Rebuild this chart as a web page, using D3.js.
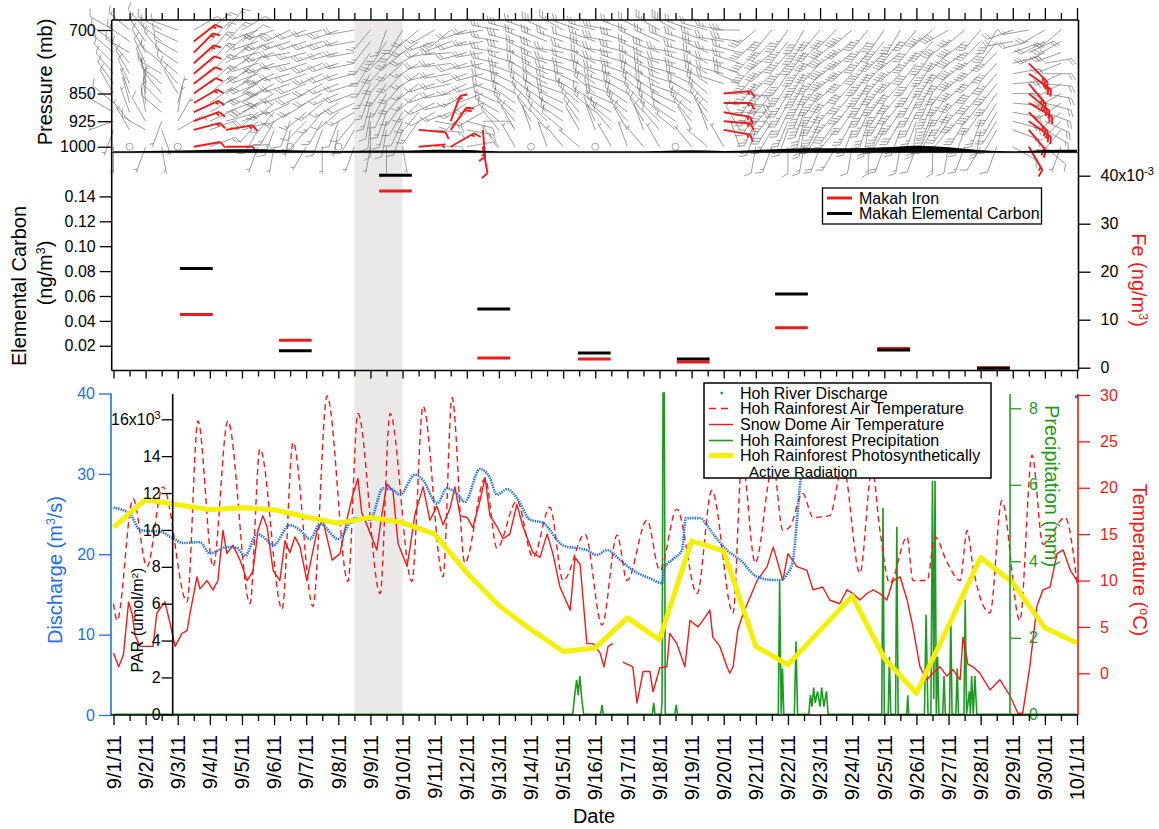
<!DOCTYPE html>
<html>
<head>
<meta charset="utf-8">
<title>Olympic Peninsula, September 2011</title>
<script src="https://cdn.jsdelivr.net/npm/d3@7"></script>
<style>
  html, body { margin: 0; padding: 0; background: #ffffff; }
  svg { display: block; font-family: "Liberation Sans", Arial, Helvetica, sans-serif; }
</style>
</head>
<body>
<svg id="chart" width="1159" height="829"></svg>
<script>
// ---------------------------------------------------------------
// Data. Times are decimal days after 9/1/2011 00:00.
// ---------------------------------------------------------------
const dateLabels = d3.range(0, 31).map(d => d < 30 ? `9/${d + 1}/11` : "10/1/11");

// wind profiler (12-hourly, one array per pressure level): direction (deg), speed (kt)
const windLevels = [1000, 950, 925, 900, 875, 850, 825, 800, 775, 750, 725, 700];
const windDir = {
  1000: [180,0,200,170,0, 80,70,90,85, 200,190,0,210,180,0,200, 190,180,170,85, 90,60,80,170, 320,330,0,340,320,310,0,330,340,320,330,0,320,310,330,340, 190,200,180,190,200,210,190,180,200,190,200,180,190,200,210,200, 120,150,130,200],
  950: [200,330,300,160,60, 75,70,80,75, 210,200,190,220,200,190,210, 180,190,200,95, 95,35,100,175, 320,330,340,320,310,330,340,320,330,340,320,310,330,340,100,330, 200,210,200,190,210,220,200,190,210,200,190,210,220,200,190,210, 110,140,120,220],
  925: [250,320,330,200,30, 70,65,75,70, 220,210,200,225,210,200,220, 185,195,205,215, 100,20,105,90, 310,320,330,315,305,325,335,310,320,330,315,305,320,330,95,90, 205,212,202,195,205,215,208,198,205,210,200,205,215,210,200,212, 105,125,115,225],
  900: [300,340,350,310,10, 65,60,70,65, 230,220,240,230,220,230,240, 190,200,210,220, 240,250,230,240, 300,310,320,310,300,320,310,300,310,320,310,300,310,320,100,90, 210,215,205,200,210,220,215,205,210,215,205,200,210,220,215,210, 100,135,110,230],
  875: [310,345,355,315,15, 60,55,65,60, 238,230,245,238,230,238,245, 195,205,215,225, 245,255,235,245, 295,305,315,305,295,310,305,295,305,315,305,295,305,315,90,95, 212,218,208,202,212,222,218,208,212,218,208,202,212,222,218,212, 95,120,105,235],
  850: [330,340,0,320,330, 55,50,60,55, 245,240,250,245,240,245,250, 200,210,220,230, 250,260,240,250, 290,300,310,300,290,300,310,290,300,310,300,290,300,310,85,95, 215,220,210,205,215,225,220,210,215,220,210,205,215,225,220,215, 90,130,100,240],
  825: [325,335,350,310,320, 52,48,58,52, 248,242,252,248,242,248,252, 205,215,222,232, 252,258,245,252, 288,295,305,298,288,295,305,288,295,305,298,288,295,305,288,295, 218,222,212,208,218,228,222,212,218,222,212,208,218,228,222,218, 85,140,95,242],
  800: [320,330,340,300,310, 50,45,55,50, 250,245,255,250,245,250,255, 210,220,225,235, 255,260,250,255, 285,290,300,295,285,290,300,285,290,300,295,285,290,300,285,290, 220,225,215,210,220,230,225,215,220,225,215,210,220,230,225,220, 80,125,90,245],
  775: [315,320,335,310,305, 48,42,52,48, 252,248,258,252,248,252,258, 212,222,228,238, 258,262,252,258, 282,288,298,292,282,288,298,282,288,298,292,282,288,298,282,288, 222,228,218,212,222,232,228,218,222,228,218,212,222,232,228,222, 75,135,80,248],
  750: [310,300,330,320,300, 45,40,50,45, 255,250,260,255,250,255,260, 215,225,230,240, 260,265,255,260, 280,285,295,290,280,285,295,280,285,295,290,280,285,295,280,285, 225,230,220,215,225,235,230,220,225,230,220,215,225,235,230,225, 70,65,245,250],
  725: [305,305,325,310,295, 52,45,45,52, 252,250,252,252,252,252,260, 218,212,220,235, 250,248,252,260, 280,285,292,292,290,288,290,280,288,295,295,290,288,290,280,278, 228,225,218,212,222,230,230,220,220,220,220,222,232,232,225,218, 260,255,242,240],
  700: [300,310,320,300,290, 60,50,40,60, 250,250,245,250,255,250,260, 220,200,210,230, 240,230,250,260, 280,285,290,295,300,290,285,280,290,295,300,300,290,285,280,270, 230,220,215,210,220,225,230,220,215,210,220,230,240,230,220,210, 250,260,240,230]
};
const windSpd = {
  1000: [5,0,5,5,0, 10,15,10,15, 5,5,0,5,5,0,5, 5,10,5,5, 10,15,10,10, 5,5,0,5,5,5,0,5,5,5,5,0,5,5,5,5, 10,15,10,15,20,15,10,15,20,15,10,15,10,15,10,10, 10,15,10,5],
  950: [5,5,10,5,10, 15,20,15,20, 10,10,5,10,10,5,10, 10,10,15,10, 15,20,15,15, 10,10,5,10,10,10,5,10,15,10,10,5,10,10,15,10, 20,25,20,25,30,25,20,25,30,25,20,25,20,25,20,15, 15,20,15,10],
  925: [5,5,10,5,5, 15,20,15,15, 10,15,10,10,15,10,10, 10,15,10,15, 15,15,10,15, 10,15,10,10,15,10,10,15,15,10,15,10,10,15,15,15, 25,30,25,30,35,30,25,30,35,30,25,30,25,30,25,20, 15,20,20,10],
  900: [10,5,10,10,5, 15,15,20,15, 15,15,10,15,15,10,15, 10,15,10,15, 10,15,10,15, 15,15,10,15,15,10,15,15,20,15,15,10,15,15,15,20, 30,35,30,35,40,35,30,35,40,35,30,35,30,35,30,25, 20,25,20,15],
  875: [10,5,10,10,5, 15,15,15,10, 20,15,15,20,15,15,20, 15,10,15,15, 15,15,15,20, 15,20,15,15,20,15,15,20,20,15,20,15,15,20,15,20, 30,35,35,40,40,35,35,40,40,35,35,40,30,35,35,30, 20,20,20,15],
  850: [10,5,5,10,10, 10,15,15,10, 20,20,15,20,20,15,20, 15,15,20,15, 15,20,15,20, 20,20,15,20,20,15,20,20,25,20,20,15,20,20,15,15, 35,40,35,40,45,40,35,40,45,40,35,40,35,40,35,30, 20,25,20,20],
  825: [10,10,5,10,10, 10,15,15,10, 20,20,20,20,20,15,20, 15,20,20,15, 15,20,15,20, 20,25,20,20,25,20,20,25,25,20,25,20,20,25,20,20, 35,40,40,45,45,40,40,45,45,40,40,45,35,40,40,35, 20,25,20,20],
  800: [10,10,10,15,10, 10,15,15,10, 20,25,20,20,25,20,20, 15,20,20,15, 20,20,15,20, 25,25,20,25,25,20,25,25,30,25,25,20,25,25,20,25, 40,45,40,45,45,45,40,45,45,45,40,45,40,45,40,35, 20,25,20,20],
  775: [10,10,10,15,10, 15,15,15,10, 20,25,20,25,25,20,25, 20,20,20,15, 20,25,20,20, 25,25,25,25,25,20,25,25,30,25,25,20,25,25,20,25, 40,45,45,45,45,45,45,45,45,45,40,45,40,45,40,35, 20,25,20,25],
  750: [15,10,10,15,10, 15,15,20,15, 25,25,20,25,25,20,25, 20,20,25,20, 20,25,20,25, 25,30,25,30,25,25,30,25,30,25,30,25,25,30,25,25, 40,45,45,45,40,45,45,45,45,40,45,45,45,40,35,35, 20,20,25,25],
  725: [10,15,10,15,10, 15,15,15,10, 20,25,25,20,25,25,20, 15,20,20,20, 15,20,20,25, 25,30,25,30,25,20,25,30,30,25,25,30,25,25,25,30, 35,40,45,45,40,40,45,45,45,40,40,45,40,40,35,30, 20,20,20,25],
  700: [10,15,10,15,10, 10,15,15,10, 20,25,25,20,20,25,20, 15,15,20,20, 15,20,20,25, 25,30,25,30,25,20,25,30,25,20,25,30,25,20,25,30, 35,40,45,40,35,40,45,45,40,35,40,45,40,35,30,30, 20,15,20,25]
};
// profiles flagged as offshore flow (drawn in red): time window and pressure band
const offshoreFrom  = [2.45, 3.45, 9.45, 10.45, 11.45, 18.95, 28.45];
const offshoreTo    = [2.55, 3.55, 9.55, 10.55, 11.55, 19.05, 28.55];
const offshoreTopP  = [720, 940, 940, 920, 940, 845, 770];
const offshoreBaseP = [1010, 1010, 1010, 1010, 1010, 955, 1010];

// surface pressure under the profiler (mb), daily
const surfaceDay = d3.range(0, 31);
const surfaceP = [1014,1013,1012,1009,1008,1009,1012,1013,1012,1012,1009,1010,1014,1014,1014,1014,1014,1013,1011,1013,1010,1006,1005,1005,1002,997,1002,1011,1014,1010,1009];

// Makah filter samples
const sampleStart = [2.07, 5.15, 8.27, 11.33, 14.46, 17.54, 20.6, 23.78, 26.89];
const sampleLength = 1.02;
const makahEC = [0.082, 0.016, 0.157, 0.0495, 0.0142, 0.0094, 0.0616, 0.0166, 0.002];
const makahFe = [0.0111, 0.0057, 0.0368, 0.0020, 0.0018, 0.0012, 0.0083, 0.0040, 0.0];

// Hoh River discharge (m3/s)
const dischargeDay = [0,0.51,0.83,1.45,1.85,2.16,2.69,3.0,3.53,3.84,4.09,4.47,4.65,4.97,5.49,5.81,6.12,6.43,6.99,7.52,7.99,8.39,8.7,8.92,9.39,9.64,10.07,10.38,10.73,10.94,11.41,11.72,11.94,12.25,12.56,12.97,13.37,14.0,14.74,15.05,15.36,15.77,16.17,16.7,17.08,17.17,17.42,17.7,17.82,18.26,18.48,18.66,19.1,19.51,20.04,20.54,20.75,20.97,21.15,21.28,21.37,21.45];
const dischargeVal = [25.8,25.0,23.0,22.8,22.0,21.4,21.5,20.1,20.9,20.8,19.8,22.5,22.2,21.1,23.6,23.0,21.9,23.8,21.9,24.5,24.3,28.2,28.0,27.4,29.9,29.2,26.3,28.2,27.4,26.5,30.6,29.5,27.4,28.1,27.0,24.3,23.9,21.1,20.5,19.9,20.5,19.3,18.0,17.0,16.4,18.4,19.4,20.5,24.5,24.5,23.6,22.6,20.5,19.3,17.2,16.8,16.8,17.5,19.1,24.3,28.4,31.0];
const dischargeLastDay = 30.0, dischargeLastVal = 39.6;

// Hoh Rainforest air temperature (deg C)
const hohTempDay = [0,0.11,0.61,1.04,1.54,2.29,2.63,3.1,3.56,4.25,4.56,5.25,5.59,6.21,6.65,7.3,7.61,8.3,8.61,9.29,9.64,10.26,10.54,10.94,11.57,11.94,12.56,13.06,13.59,14.0,14.68,15.21,15.68,15.99,16.61,17.01,17.54,18.17,18.63,19.29,19.57,19.98,20.54,20.84,21.06,21.46,21.78,22.3,22.71,23.24,23.62,23.86,24.17,24.71,24.89,25.33,25.58,25.95,26.36,26.58,26.76,27.29,27.66,28.22,28.6,28.94,29.63,30.0];
const hohTempVal = [7.5,5.7,18.8,11.5,20.1,7.7,27.2,11.5,27.2,7.5,24.2,6.9,24.9,7.2,29.9,9.9,28.0,8.6,28.0,9.9,28.8,10.4,29.7,11.9,21.0,13.5,18.6,12.5,17.9,10.0,15.0,5.2,14.9,10.0,16.5,11.1,17.7,8.6,19.7,6.5,23.0,11.9,22.5,15.4,15.8,19.4,16.8,17.0,22.5,10.8,22.0,15.5,9.7,14.7,10.0,10.0,14.7,12.0,10.0,15.4,11.5,6.5,18.6,5.7,23.5,13.9,16.8,9.7];

// Snow Dome air temperature (deg C); null marks a data gap
const snowTempDay = [0,0.16,0.31,0.47,0.58,0.67,0.83,1.23,1.35,1.6,1.76,1.92,2.13,2.29,2.38,2.6,2.69,2.91,3.1,3.25,3.41,3.53,3.72,3.94,4.16,4.34,4.5,4.65,4.78,4.97,5.18,5.34,5.49,5.65,5.81,6.02,6.34,6.52,6.81,7.05,7.27,7.43,7.61,7.73,7.89,8.2,8.36,8.51,8.7,8.86,9.14,9.23,9.39,9.64,9.85,10.07,10.26,10.48,10.63,10.79,11.01,11.19,11.41,11.57,11.72,11.94,12.13,12.34,12.56,12.75,13.06,13.28,13.5,13.68,13.9,14.22,14.37,14.53,14.74,14.93,15.15,15.27,15.4,15.55,15.7,15.86,16.17,16.3,16.49,16.7,16.8,17.01,17.23,17.32,17.54,17.79,17.95,18.2,18.35,18.57,18.66,18.88,19.1,19.19,19.29,19.44,19.6,19.82,20.04,20.35,20.54,20.66,20.84,21.0,21.28,21.59,21.78,22.08,22.3,22.61,22.84,23.02,23.24,23.46,23.65,23.86,24.08,24.27,24.49,24.71,24.89,25.11,25.33,25.51,25.73,25.95,26.14,26.36,26.45,26.6,26.76,26.98,27.29,27.6,27.91,28.16,28.31,28.53,28.75,28.94,29.16,29.38,29.57,29.79,30.0];
const snowTempVal = [2.2,0.7,2.0,7.7,6.4,4.1,2.9,2.9,6.5,7.7,5.4,2.9,4.3,4.6,6.4,10.4,9.1,10.0,9.0,10.0,15.4,12.9,13.8,12.2,10.0,11.0,15.4,17.0,15.8,11.1,10.0,14.3,13.0,14.7,13.6,10.0,15.4,16.5,12.2,12.9,16.6,19.0,21.0,17.3,16.0,13.3,17.2,20.4,19.7,14.0,11.5,13.5,17.2,20.1,16.5,18.0,16.0,17.8,20.1,17.0,16.8,15.7,18.6,21.1,17.0,15.8,14.5,15.0,18.2,15.8,13.0,12.5,15.0,12.9,9.3,6.8,12.5,11.7,3.2,3.2,2.2,0.7,2.9,3.2,null,1.2,0.7,-3.2,0.2,0.2,-2.0,0.6,0.7,4.3,3.2,0.7,5.7,5.0,5.7,6.8,3.9,2.9,0.7,0.0,0.7,4.7,6.4,8.2,10.0,11.5,13.6,12.2,10.0,12.9,11.5,11.1,9.0,9.3,7.9,7.5,9.0,8.6,7.9,8.6,9.0,8.6,7.9,10.0,10.4,7.9,5.0,0.7,-0.7,0.0,0.7,-0.3,0.4,-0.7,3.9,1.0,0.7,0.0,-1.8,-0.7,-2.4,-4.3,-4.3,0.7,7.2,9.0,9.3,12.9,13.3,11.1,10.0];

// Hoh Rainforest precipitation (mm)
const precipDay = [0,14.3,14.36,14.42,14.47,14.52,14.58,14.64,15.17,15.21,15.25,16.78,16.82,16.86,17.05,17.08,17.11,17.15,17.18,17.48,17.52,17.56,20.7,20.74,20.79,20.83,20.87,21.2,21.25,21.3,21.65,21.7,21.75,21.8,21.85,21.92,22.0,22.05,22.12,22.2,22.25,23.92,23.96,24.0,24.12,24.16,24.2,24.35,24.39,24.43,24.7,24.73,24.76,25.25,25.3,25.36,25.45,25.5,25.54,25.58,25.62,25.66,25.7,25.82,25.86,25.9,26.03,26.07,26.11,26.23,26.27,26.31,26.48,26.52,26.56,26.65,26.68,26.72,26.77,26.82,26.88,26.93,30.0];
const precipVal = [0,0,0.5,0.9,0.5,1.0,0.4,0,0,0.25,0,0,0.3,0,0,0.3,8.4,8.4,0,0,0.25,0,0,3.5,0,1.2,0,0,1.9,0,0,0.5,0.2,0.7,0.3,0.6,0.2,0.7,0.2,0.6,0,0,5.4,0,0,1.5,0,0,4.9,0,0,0.5,0,0,2.6,0,0,6.1,0.4,6.1,0,1.5,0,0,1.0,0,0,2.5,0,0,1.2,0,0,3.0,0,0.6,0,1.0,0,1.0,0,0,0];

// Hoh Rainforest photosynthetically active radiation, daily
const parDay = d3.range(0, 31);
const parVal = [10140,11640,11370,11100,11200,11100,10700,10370,10680,10400,9770,7680,5900,4600,3410,3600,5230,4050,9410,8860,3680,2690,4550,6410,3050,1140,4800,8500,7140,4690,3870];

// gray band: period of interest
const shadeFrom = 7.5, shadeTo = 9.0;

// axis ticks
const pressureTicks = [700, 850, 925, 1000];
const ecTicks = [0.02, 0.04, 0.06, 0.08, 0.10, 0.12, 0.14];
const feTicks = [0, 0.01, 0.02, 0.03, 0.04];
const dischargeTicks = [0, 10, 20, 30, 40];
const parTicks = [0, 2000, 4000, 6000, 8000, 10000, 12000, 14000, 16000];
const precipTicks = [0, 2, 4, 6, 8];
const tempTicks = [0, 5, 10, 15, 20, 25, 30];

// ---------------------------------------------------------------
// Scales and colours
// ---------------------------------------------------------------
const C = {
  red: "#ee1b1b", blue: "#1f6fe6", green: "#1e9a22", yellow: "#f4f000",
  gray: "#747474", shade: "#ebe8e8"
};
const t0 = new Date(2011, 8, 1), t1 = new Date(2011, 9, 1);
const at = d => new Date(t0.getTime() + d * 864e5);
const x = d3.scaleTime().domain([t0, t1]).range([113.5, 1077]);

const yP = d3.scaleLog().domain([1000, 700]).range([146.7, 30]);
const yEC = d3.scaleLinear().domain([0, 0.14]).range([370.7, 196.4]);
const yFe = d3.scaleLinear().domain([0, 0.04]).range([367.7, 175.7]);
const yQ = d3.scaleLinear().domain([0, 40]).range([715, 393.5]);
const yPAR = d3.scaleLinear().domain([0, 16000]).range([714.3, 419.3]);
const yPr = d3.scaleLinear().domain([0, 8]).range([714.3, 408.3]);
const yT = d3.scaleLinear().domain([0, 30]).range([673.3, 395]);

const svg = d3.select("#chart");
const dayDates = d3.range(0, 31).map(at);
const halfDates = d3.range(0, 30).map(d => at(d + 0.5));

// ---------------------------------------------------------------
// Helpers
// ---------------------------------------------------------------
function plainAxis(g, axis) {
  g.call(axis);
  g.select(".domain").remove();
  g.selectAll(".tick line").attr("stroke", "currentColor").attr("stroke-width", 1.3);
  g.selectAll(".tick text").attr("font-size", 16).attr("font-family", null);
  return g;
}
function vline(xp, ya, yb, color, w) {
  svg.append("line").attr("x1", xp).attr("x2", xp).attr("y1", ya).attr("y2", yb)
    .attr("stroke", color).attr("stroke-width", w || 1.4);
}
function hline(yp, xa, xb, color, w) {
  svg.append("line").attr("x1", xa).attr("x2", xb).attr("y1", yp).attr("y2", yp)
    .attr("stroke", color).attr("stroke-width", w || 1.4);
}
// parts: plain strings, or { sup: "..." } for a raised run
function rotatedTitle(cx, cy, angle, size, color, parts) {
  const t = svg.append("text")
    .attr("transform", `translate(${cx},${cy}) rotate(${angle})`)
    .attr("text-anchor", "middle").attr("dy", "0.35em")
    .attr("font-size", size).attr("fill", color);
  parts.forEach(p => {
    if (typeof p === "string") {
      t.append("tspan").text(p);
    } else {
      t.append("tspan").attr("baseline-shift", "super").attr("font-size", size * 0.62).text(p.sup);
    }
  });
  return t;
}

// ---------------------------------------------------------------
// Shaded period (behind everything)
// ---------------------------------------------------------------
svg.append("rect")
  .attr("x", x(at(shadeFrom))).attr("y", 20)
  .attr("width", x(at(shadeTo)) - x(at(shadeFrom))).attr("height", 695)
  .attr("fill", C.shade);

// ---------------------------------------------------------------
// Top panel: wind barbs over pressure
// ---------------------------------------------------------------
const gWind = svg.append("g");

function isOffshore(day, p) {
  return offshoreFrom.some((f, k) => day >= f && day <= offshoreTo[k] && p >= offshoreTopP[k] && p <= offshoreBaseP[k]);
}
// barb in a local frame: station at (0,0), shaft pointing up toward the wind source
function barbPath(speed) {
  const L = 27, F = 7.5, gap = 3.2;
  let s = Math.round(speed / 5) * 5;
  let d = `M0,0V${-L}`;
  let yy = -L;
  const flags = Math.floor(s / 50); s -= flags * 50;
  const full = Math.floor(s / 10); s -= full * 10;
  const half = s >= 5 ? 1 : 0;
  for (let k = 0; k < flags; k++) {
    d += `M0,${yy}L${F * 0.87},${yy - F * 0.3}L0,${yy + 5}Z`;
    yy += 6.5;
  }
  for (let k = 0; k < full; k++) {
    d += `M0,${yy}L${F * 0.866},${yy - F * 0.5}`;
    yy += gap;
  }
  if (half) {
    if (flags + full === 0) yy += gap;
    d += `M0,${yy}L${F * 0.433},${yy - F * 0.25}`;
  }
  return d;
}
const barbs = [];
windLevels.forEach(p => {
  windDir[p].forEach((dir, i) => {
    const day = i * 0.5;
    barbs.push({ day, p, dir, spd: windSpd[p][i], red: isOffshore(day, p) });
  });
});
const drawBarb = (sel) => sel.each(function (b) {
  const g = d3.select(this);
  const px = x(at(b.day)), py = yP(b.p);
  const col = b.red ? C.red : C.gray;
  const w = b.red ? 1.9 : 0.65;
  if (b.spd < 2.5) {
    g.append("circle").attr("cx", px).attr("cy", py).attr("r", 3.5)
      .attr("fill", "none").attr("stroke", col).attr("stroke-width", w);
  } else {
    g.append("path").attr("d", barbPath(b.spd))
      .attr("transform", `translate(${px},${py}) rotate(${b.dir})`)
      .attr("fill", col).attr("stroke", col).attr("stroke-width", w)
      .attr("stroke-linejoin", "round");
  }
});
gWind.selectAll("g.gray").data(barbs.filter(b => !b.red)).join("g").attr("class", "gray").call(drawBarb);

// ground (surface pressure) band
svg.append("path")
  .datum(surfaceDay.map((d, i) => [d, surfaceP[i]]))
  .attr("d", d3.area().x(d => x(at(d[0]))).y0(152.8).y1(d => yP(d[1])).curve(d3.curveMonotoneX))
  .attr("fill", "#000");

gWind.selectAll("g.red").data(barbs.filter(b => b.red)).join("g").attr("class", "red").call(drawBarb);

// frame of the upper two panels
vline(111.7, 20, 370.5, "#000", 1.6);
vline(1078.5, 20, 370.5, "#000", 1.6);
hline(20, 111.7, 1078.5, "#000", 1.6);
hline(152.6, 111.7, 1078.5, "#222", 0.9);
hline(370.5, 111.7, 1078.5, "#000", 1.6);

// time ticks above the top panel
plainAxis(svg.append("g").attr("transform", "translate(0,20)"),
  d3.axisTop(x).tickValues(dayDates).tickSize(12).tickFormat(""));
plainAxis(svg.append("g").attr("transform", "translate(0,20)"),
  d3.axisTop(x).tickValues(halfDates).tickSize(7).tickFormat(""));

// pressure axis
plainAxis(svg.append("g").attr("transform", "translate(111.7,0)"),
  d3.axisLeft(yP).tickValues(pressureTicks).tickSize(14).tickPadding(2).tickFormat(d3.format("d")));
rotatedTitle(45, 82, -90, 20, "#000", ["Pressure (mb)"]);

// ---------------------------------------------------------------
// Middle panel: Makah elemental carbon and iron
// ---------------------------------------------------------------
const gSamples = svg.append("g");
gSamples.selectAll("line.fe").data(sampleStart).join("line").attr("class", "fe")
  .attr("x1", d => x(at(d))).attr("x2", d => x(at(d + sampleLength)))
  .attr("y1", (d, i) => yFe(makahFe[i])).attr("y2", (d, i) => yFe(makahFe[i]))
  .attr("stroke", C.red).attr("stroke-width", 3);
gSamples.selectAll("line.ec").data(sampleStart).join("line").attr("class", "ec")
  .attr("x1", d => x(at(d))).attr("x2", d => x(at(d + sampleLength)))
  .attr("y1", (d, i) => yEC(makahEC[i])).attr("y2", (d, i) => yEC(makahEC[i]))
  .attr("stroke", "#000").attr("stroke-width", 3);

plainAxis(svg.append("g").attr("transform", "translate(111.7,0)"),
  d3.axisLeft(yEC).tickValues(ecTicks).tickSize(12).tickPadding(4).tickFormat(d3.format(".2f")));
const feAxis = plainAxis(svg.append("g").attr("transform", "translate(1078.5,0)"),
  d3.axisRight(yFe).tickValues(feTicks).tickSize(12).tickPadding(10).tickFormat(d => d3.format("d")(Math.round(d * 1000))));
feAxis.selectAll(".tick text").filter(d => d === 0.04).each(function () {
  const t = d3.select(this);
  t.text("40x10");
  t.append("tspan").attr("baseline-shift", "super").attr("font-size", 11).text("-3");
});
plainAxis(svg.append("g").attr("transform", "translate(0,370.5)"),
  d3.axisBottom(x).tickValues(dayDates).tickSize(8).tickFormat(""));
plainAxis(svg.append("g").attr("transform", "translate(0,370.5)"),
  d3.axisBottom(x).tickValues(halfDates).tickSize(6).tickFormat(""));

rotatedTitle(19, 286, -90, 20, "#000", ["Elemental Carbon"]);
rotatedTitle(45, 273, -90, 20, "#000", ["(ng/m", { sup: "3" }, ")"]);
rotatedTitle(1139, 280, 90, 20, C.red, ["Fe (ng/m", { sup: "3" }, ")"]);

// legend
const leg1 = svg.append("g");
leg1.append("rect").attr("x", 822.5).attr("y", 188).attr("width", 219).attr("height", 36)
  .attr("fill", "#fff").attr("stroke", "#000").attr("stroke-width", 1.3);
[["Makah Iron", C.red, 198], ["Makah Elemental Carbon", "#000", 213.5]].forEach(([label, col, yy]) => {
  leg1.append("line").attr("x1", 827).attr("x2", 852).attr("y1", yy).attr("y2", yy)
    .attr("stroke", col).attr("stroke-width", 3);
  leg1.append("text").attr("x", 859).attr("y", yy).attr("dy", "0.36em")
    .attr("font-size", 16).text(label);
});

// ---------------------------------------------------------------
// Bottom panel: discharge, temperatures, precipitation, PAR
// ---------------------------------------------------------------
const gBottom = svg.append("g");

// precipitation
gBottom.append("path")
  .datum(precipDay.map((d, i) => [d, precipVal[i]]))
  .attr("d", d3.line().x(d => x(at(d[0]))).y(d => yPr(d[1])))
  .attr("fill", "none").attr("stroke", C.green).attr("stroke-width", 1.6);

// Snow Dome air temperature
gBottom.append("path")
  .datum(snowTempDay.map((d, i) => [d, snowTempVal[i]]))
  .attr("d", d3.line().defined(d => d[1] !== null).x(d => x(at(d[0]))).y(d => yT(d[1])))
  .attr("fill", "none").attr("stroke", C.red).attr("stroke-width", 1.4).attr("stroke-linejoin", "round");

// Hoh Rainforest air temperature
gBottom.append("path")
  .datum(hohTempDay.map((d, i) => [d, hohTempVal[i]]))
  .attr("d", d3.line().x(d => x(at(d[0]))).y(d => yT(d[1])).curve(d3.curveMonotoneX))
  .attr("fill", "none").attr("stroke", C.red).attr("stroke-width", 1.4).attr("stroke-dasharray", "6,4");

// Hoh River discharge (dense dots)
gBottom.append("path")
  .datum(dischargeDay.map((d, i) => [d, dischargeVal[i]]))
  .attr("d", d3.line().x(d => x(at(d[0]))).y(d => yQ(d[1])).curve(d3.curveMonotoneX))
  .attr("fill", "none").attr("stroke", C.blue).attr("stroke-width", 2.6).attr("stroke-dasharray", "1.4,1");
gBottom.append("rect")
  .attr("x", x(at(dischargeLastDay)) - 2).attr("y", yQ(dischargeLastVal) - 1.5)
  .attr("width", 3).attr("height", 3).attr("fill", C.blue);

// PAR
gBottom.append("path")
  .datum(parDay.map((d, i) => [d, parVal[i]]))
  .attr("d", d3.line().x(d => x(at(d[0]))).y(d => yPAR(d[1])))
  .attr("fill", "none").attr("stroke", C.yellow).attr("stroke-width", 5).attr("stroke-linejoin", "round");

// axes of the bottom panel
vline(111, 393.5, 715, C.blue, 1.6);
const qAxis = plainAxis(svg.append("g").attr("transform", "translate(111,0)"),
  d3.axisLeft(yQ).tickValues(dischargeTicks).tickSize(12).tickPadding(4));
qAxis.attr("color", C.blue);

vline(172.7, 394, 714.3, "#000", 1.6);
const parAxis = plainAxis(svg.append("g").attr("transform", "translate(172.7,0)"),
  d3.axisLeft(yPAR).tickValues(parTicks).tickSize(11).tickPadding(1).tickFormat(d => d / 1000));
parAxis.selectAll(".tick text").filter(d => d === 16000).each(function () {
  const t = d3.select(this);
  t.text("16x10");
  t.append("tspan").attr("baseline-shift", "super").attr("font-size", 11).text("3");
});

vline(1010, 394, 714.3, C.green, 1.6);
const prAxis = plainAxis(svg.append("g").attr("transform", "translate(1010,0)"),
  d3.axisRight(yPr).tickValues(precipTicks).tickSize(11).tickPadding(8));
prAxis.attr("color", C.green);

vline(1078, 394, 715, C.red, 1.6);
const tAxis = plainAxis(svg.append("g").attr("transform", "translate(1078,0)"),
  d3.axisRight(yT).tickValues(tempTicks).tickSize(12).tickPadding(10));
tAxis.attr("color", C.red);

// date axis
hline(715, 111, 1078, "#000", 1.6);
plainAxis(svg.append("g").attr("transform", "translate(0,715)"),
  d3.axisBottom(x).tickValues(dayDates).tickSize(10).tickFormat(""));
plainAxis(svg.append("g").attr("transform", "translate(0,715)"),
  d3.axisBottom(x).tickValues(halfDates).tickSize(6).tickFormat(""));
svg.append("g").selectAll("text").data(dayDates).join("text")
  .attr("transform", d => `translate(${x(d)},735) rotate(-90)`)
  .attr("text-anchor", "end").attr("dy", "0.36em").attr("font-size", 20)
  .text((d, i) => dateLabels[i]);
svg.append("text").attr("x", 594).attr("y", 823).attr("text-anchor", "middle")
  .attr("font-size", 20).text("Date");

rotatedTitle(55, 570, -90, 20, C.blue, ["Discharge (m", { sup: "3" }, "/s)"]);
rotatedTitle(137, 620, -90, 16, "#000", ["PAR (umol/m", { sup: "2" }, ")"]);
rotatedTitle(1052, 486, 90, 20, C.green, ["Precipitation (mm)"]);
rotatedTitle(1140, 560, 90, 20, C.red, ["Temperature (", { sup: "o" }, "C)"]);

// legend
const leg2 = svg.append("g");
leg2.append("rect").attr("x", 704).attr("y", 383).attr("width", 287).attr("height", 95)
  .attr("fill", "#fff").attr("stroke", "#000").attr("stroke-width", 1.5);
const legendRows = [
  { label: "Hoh River Discharge", y: 393, kind: "dot" },
  { label: "Hoh Rainforest Air Temperature", y: 408.5, kind: "dash" },
  { label: "Snow Dome Air Temperature", y: 424.5, kind: "red" },
  { label: "Hoh Rainforest Precipitation", y: 440.5, kind: "green" },
  { label: "Hoh Rainforest Photosynthetically", y: 455.5, kind: "yellow" }
];
legendRows.forEach(r => {
  if (r.kind === "dot") {
    leg2.append("rect").attr("x", 720.5).attr("y", r.y - 1.2).attr("width", 2.4).attr("height", 2.4).attr("fill", C.blue);
  } else {
    const st = {
      dash: [C.red, 1.4, "7,5"], red: [C.red, 1.4, null], green: [C.green, 1.6, null], yellow: [C.yellow, 5, null]
    }[r.kind];
    leg2.append("line").attr("x1", 709).attr("x2", 733).attr("y1", r.y).attr("y2", r.y)
      .attr("stroke", st[0]).attr("stroke-width", st[1]).attr("stroke-dasharray", st[2]);
  }
  leg2.append("text").attr("x", 740).attr("y", r.y).attr("dy", "0.36em").attr("font-size", 16).text(r.label);
});
leg2.append("text").attr("x", 749).attr("y", 471.5).attr("dy", "0.36em").attr("font-size", 15).text("Active Radiation");
</script>
</body>
</html>
